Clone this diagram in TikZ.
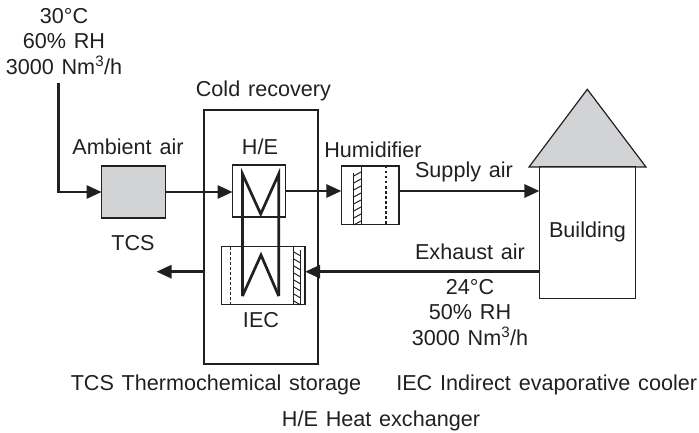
\documentclass[tikz,border=0pt]{standalone}
\usepackage{fontspec}
\setmainfont[WordSpace=1.3]{Liberation Sans}
\usetikzlibrary{arrows.meta}
\definecolor{ink}{HTML}{231F20}
\definecolor{fillgray}{HTML}{D1D3D4}
\begin{document}
\begin{tikzpicture}[x=1pt,y=-1pt,
	txt/.style={inner sep=0pt,text=ink,align=center,font=\fontsize{21.6}{25.5}\selectfont},
	box/.style={draw=ink,line width=1.3pt,inner sep=0pt},
	flow/.style={draw=ink,line width=2.8pt,-{Triangle[length=15pt,width=13pt,fill=ink]},shorten >=-.5pt},
	coil/.style={draw=ink,line width=2.7pt,line join=miter},
	thin/.style={draw=ink,line width=1pt},
	dots/.style={draw=ink,line width=1.2pt,dash pattern=on 2.5pt off 2.5pt}]
\useasboundingbox (0,0) rectangle (699,433);
% boxes
\node[box,minimum width=114pt,minimum height=254pt] (recovery) at (261,237) {};
\node[box,fill=fillgray,minimum width=63.5pt,minimum height=52pt] (tcs) at (133.5,192) {};
\node[box,minimum width=52.5pt,minimum height=52pt] (he) at (259,191) {};
\node[box,minimum width=57.5pt,minimum height=58.5pt] (humid) at (370.3,195.3) {};
\node[box,minimum width=83.5pt,minimum height=58pt] (iec) at (263.2,275.7) {};
\filldraw[draw=ink,line width=1.2pt,fill=fillgray] (529,167)--(587.3,89.3)--(646,167)--cycle;
\node[box,minimum width=96pt,minimum height=132pt] (building) at (587.6,232.7) {};
% labels
\node[txt] (inlet) at (64,41.5) {30°C\\60\% RH\\3000 Nm\textsuperscript{3}/h};
\node[txt] (ambient) at (128,147) {Ambient air};
\node[txt] (tcslabel) at (133,243) {TCS};
\node[txt] (recoverylabel) at (263.4,91) {Cold recovery};
\node[txt] (helabel) at (260,147) {H/E};
\node[txt] (humidlabel) at (373,150) {Humidifier};
\node[txt] (supply) at (464,172) {Supply air};
\node[txt] (buildinglabel) at (587.5,232) {Building};
\node[txt] (exhaust) at (470,252) {Exhaust air};
\node[txt] (outlet) at (470,312.5) {24°C\\50\% RH\\3000 Nm\textsuperscript{3}/h};
\node[txt] (ieclabel) at (261,320) {IEC};
\node[txt] (note1) at (216,385) {TCS Thermochemical storage};
\node[txt] (note2) at (546.7,385) {IEC Indirect evaporative cooler};
\node[txt] (note3) at (381,421) {H/E Heat exchanger};
% connectors
\coordinate (start) at (58.5,83);
\coordinate (outend) at (157,271.7);
\draw[flow] (start) |- (tcs.west);
\draw[flow] (tcs.east) -- (he.west |- tcs.east);
\draw[flow] (he.east) -- (humid.west |- he.east);
\draw[flow] (humid.east |- he.east) -- (building.west |- he.east);
\draw[flow] (building.west |- 0,271.7) -- (iec.east |- 0,271.7);
\draw[flow] (recovery.west |- 0,271.7) -- (outend);
% coil
\draw[coil] (242.5,296)--(242.5,174)--(260.7,214)--(278.7,174)--(278.7,296);
\draw[coil] (242.5,296)--(261,255)--(278.7,296);
% humidifier wick
\draw[thin] (361,166)--(361,224.7);
\draw[thin] (353.7,173)--(353.7,224.7);
\foreach \y in {176,183,...,225} \draw[thin] (353.7,\y)--(361,\y-4);
\draw[dots] (386,166)--(386,224.7);
% cooler wick
\draw[thin] (293.8,247)--(293.8,304.7);
\draw[thin] (300.7,250)--(300.7,304.7);
\foreach \y in {252,259,...,303} \draw[thin] (293.8,\y)--(300.7,\y+4);
\draw[dots] (230.3,247)--(230.3,304.7);
\end{tikzpicture}
\end{document}
